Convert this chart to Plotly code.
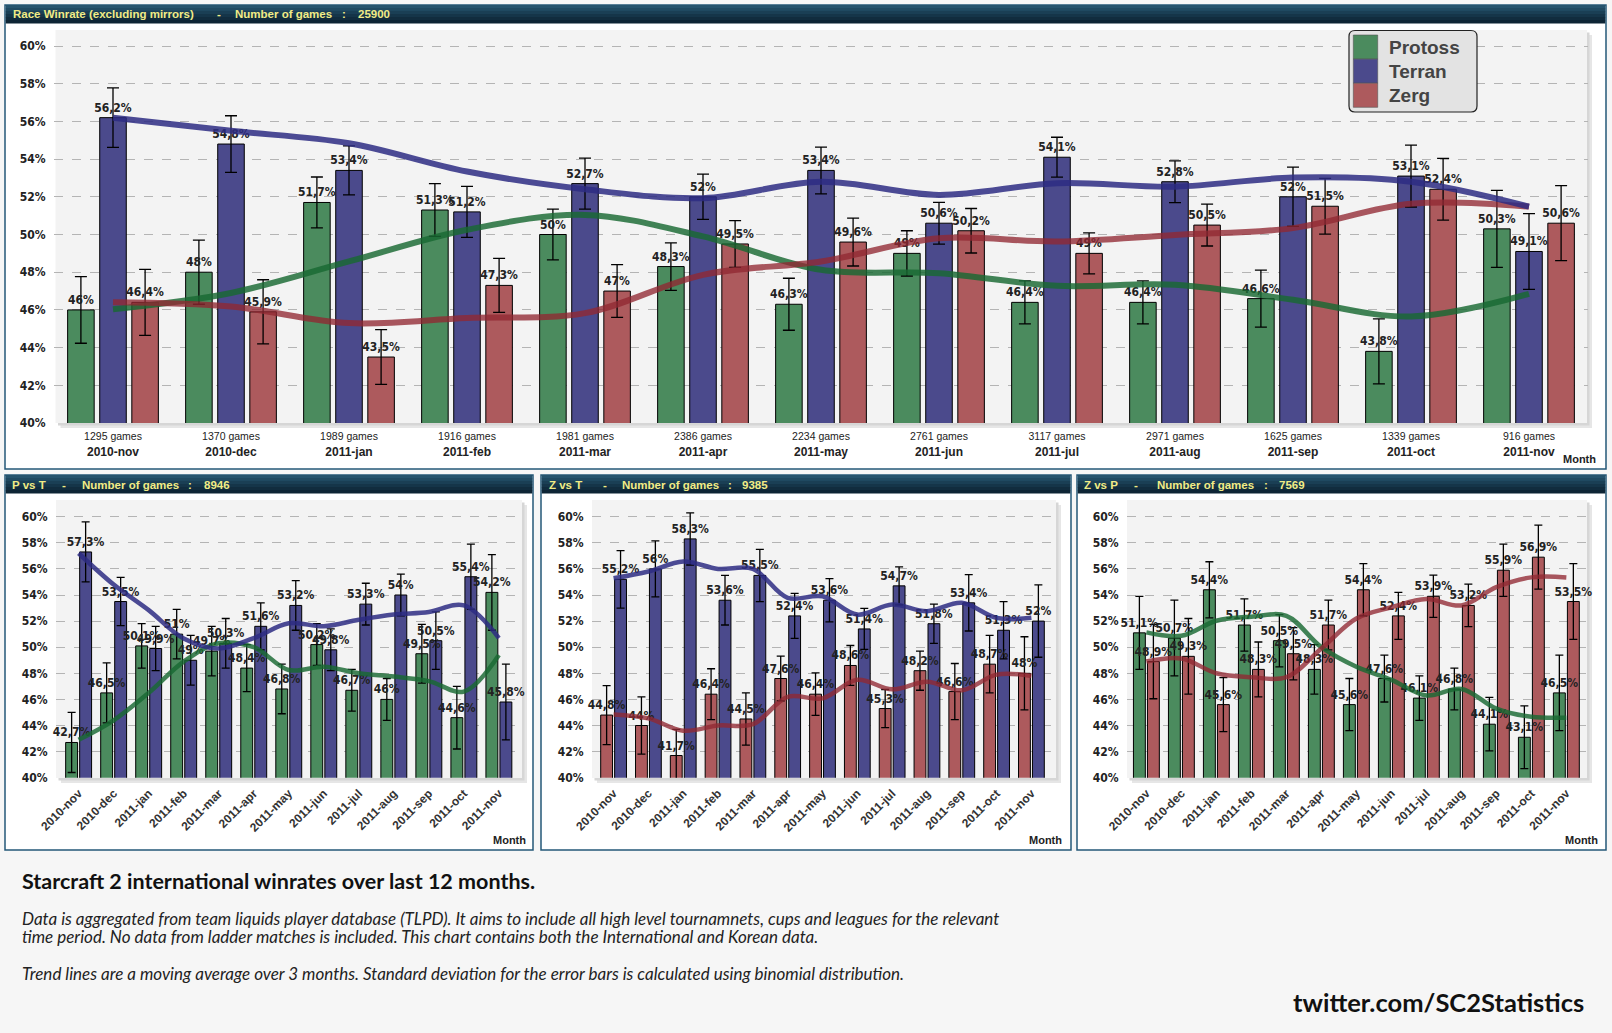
import plotly.graph_objects as go

W, H = 1612, 1033

# ---------------- data ----------------
months = ['2010-nov', '2010-dec', '2011-jan', '2011-feb', '2011-mar', '2011-apr', '2011-may',
          '2011-jun', '2011-jul', '2011-aug', '2011-sep', '2011-oct', '2011-nov']
games = [1295, 1370, 1989, 1916, 1981, 2386, 2234, 2761, 3117, 2971, 1625, 1339, 916]

# Race winrate (excluding mirrors)
all_protoss = [46, 48, 51.7, 51.3, 50, 48.3, 46.3, 49, 46.4, 46.4, 46.6, 43.8, 50.3]
all_terran = [56.2, 54.8, 53.4, 51.2, 52.7, 52, 53.4, 50.6, 54.1, 52.8, 52, 53.1, 49.1]
all_zerg = [46.4, 45.9, 43.5, 47.3, 47, 49.5, 49.6, 50.2, 49, 50.5, 51.5, 52.4, 50.6]
all_protoss_err = [1.77, 1.7, 1.35, 1.4, 1.35, 1.26, 1.38, 1.2, 1.14, 1.14, 1.51, 1.72, 2.04]
all_terran_err = [1.58, 1.5, 1.3, 1.35, 1.35, 1.2, 1.24, 1.11, 1.06, 1.11, 1.57, 1.64, 2.01]
all_zerg_err = [1.75, 1.7, 1.45, 1.43, 1.4, 1.24, 1.27, 1.18, 1.09, 1.11, 1.48, 1.64, 1.99]
all_protoss_trend = [46.04, 46.9, 48.57, 50.25, 51.04, 49.9, 48.13, 47.95, 47.28, 47.33, 46.54, 45.65, 46.85]
all_terran_trend = [56.2, 55.5, 54.84, 53.34, 52.4, 51.93, 52.8, 52.1, 52.72, 52.54, 53.02, 52.8, 51.48]
all_zerg_trend = [46.41, 46.18, 45.3, 45.57, 45.83, 47.86, 48.57, 49.8, 49.63, 49.98, 50.34, 51.63, 51.48]

# P vs T
pvt_protoss = [42.7, 46.5, 50.1, 51, 49.7, 48.4, 46.8, 50.2, 46.7, 46, 49.5, 44.6, 54.2]
pvt_terran = [57.3, 53.5, 49.9, 49, 50.3, 51.6, 53.2, 49.8, 53.3, 54, 50.5, 55.4, 45.8]
pvt_protoss_err = [2.3, 2.3, 1.7, 1.9, 1.9, 1.8, 1.9, 1.6, 1.6, 1.6, 2.25, 2.4, 2.9]
pvt_terran_err = [2.3, 1.85, 1.7, 1.9, 1.9, 1.8, 1.9, 1.6, 1.6, 1.6, 2.2, 2.5, 2.9]
pvt_protoss_trend = [42.9, 44.4, 46.5, 48.9, 50.3, 50.0, 48.25, 48.5, 48.0, 47.75, 47.4, 46.6, 49.4]
pvt_terran_trend = [57.2, 54.8, 52.84, 50.67, 49.9, 50.7, 51.83, 51.6, 52.1, 52.5, 52.7, 53.2, 50.7]

# Z vs T
zvt_zerg = [44.8, 44, 41.7, 46.4, 44.5, 47.6, 46.4, 48.6, 45.3, 48.2, 46.6, 48.7, 48]
zvt_terran = [55.2, 56, 58.3, 53.6, 55.5, 52.4, 53.6, 51.4, 54.7, 51.8, 53.4, 51.3, 52]
zvt_zerg_err = [2.26, 2.2, 2.0, 1.95, 2.0, 1.72, 1.63, 1.53, 1.46, 1.5, 2.15, 2.2, 2.8]
zvt_terran_err = [2.2, 2.15, 2.0, 1.9, 2.0, 1.72, 1.66, 1.57, 1.46, 1.5, 2.16, 2.2, 2.77]
zvt_zerg_trend = [44.85, 44.55, 43.6, 44.0, 44.1, 46.2, 46.08, 47.5, 46.77, 47.36, 46.7, 47.9, 47.8]
zvt_terran_trend = [55.28, 55.8, 56.57, 56.0, 56.0, 53.78, 53.9, 52.5, 53.27, 52.76, 53.4, 52.25, 52.25]

# Z vs P
zvp_protoss = [51.1, 50.7, 54.4, 51.7, 50.5, 48.3, 45.6, 47.6, 46.1, 46.8, 44.1, 43.1, 46.5]
zvp_zerg = [48.9, 49.3, 45.6, 48.3, 49.5, 51.7, 54.4, 52.4, 53.9, 53.2, 55.9, 56.9, 53.5]
zvp_protoss_err = [2.8, 2.9, 2.15, 2.0, 2.0, 1.9, 2.0, 1.8, 1.7, 1.6, 2.05, 2.4, 2.9]
zvp_zerg_err = [2.85, 2.9, 2.07, 2.1, 2.0, 1.9, 2.0, 1.8, 1.62, 1.63, 2.0, 2.45, 2.9]
zvp_protoss_trend = [51.14, 50.88, 52.03, 52.34, 52.4, 50.0, 48.5, 47.5, 46.3, 46.8, 45.3, 44.67, 44.6]
zvp_zerg_trend = [48.9, 49.14, 48.0, 47.7, 47.7, 49.9, 52.2, 53.06, 53.7, 53.2, 54.6, 55.35, 55.35]

panel_titles = ['Race Winrate (excluding mirrors)', 'P vs T', 'Z vs T', 'Z vs P']
panel_games = ['25900', '8946', '9385', '7569']
y_ticks = [40, 42, 44, 46, 48, 50, 52, 54, 56, 58, 60]

# ---------------- styles ----------------
P_COL, T_COL, Z_COL = '#4b8b5e', '#4b4a8c', '#ad5a5d'
P_TR, T_TR, Z_TR = 'rgba(25,105,50,0.82)', 'rgba(45,44,130,0.85)', 'rgba(145,40,50,0.78)'
NARROW = 'Liberation Sans Narrow, DejaVu Sans Condensed, Arial Narrow, sans-serif'
SANS = 'Liberation Sans, Arial, sans-serif'
LABEL_FONT = dict(family=NARROW, size=12, color='#222', weight='bold')
BODY = 'Lato, Open Sans, sans-serif'


def fmt(v):
    return ('%g' % v).replace('.', ',') + '%'


def px(x):
    return x / W


def py(y):
    return 1 - y / H


fig = go.Figure()


def add_bars(vals, errs, color, xa, ya, width, offset, cap):
    fig.add_trace(go.Bar(
        x=months, y=vals, xaxis=xa, yaxis=ya, width=width, offset=offset,
        marker=dict(color=color, line=dict(color='black', width=1)),
        error_y=dict(type='data', array=errs, color='black', thickness=1.3, width=cap),
        showlegend=False, hoverinfo='skip'))


def add_labels(vals, xa, ya, width, offset):
    # transparent bars that only carry the value labels (drawn above all real bars)
    fig.add_trace(go.Bar(
        x=months, y=vals, xaxis=xa, yaxis=ya, width=width, offset=offset,
        marker=dict(color='rgba(0,0,0,0)', line=dict(width=0)),
        text=[fmt(v) for v in vals], textposition='outside', textangle=0,
        constraintext='none', cliponaxis=False, textfont=LABEL_FONT,
        showlegend=False, hoverinfo='skip'))


def add_trend(vals, color, xa, ya, lw):
    fig.add_trace(go.Scatter(
        x=months, y=vals, xaxis=xa, yaxis=ya, mode='lines',
        line=dict(color=color, width=lw, shape='spline', smoothing=1.0),
        showlegend=False, hoverinfo='skip'))


# top chart
tw, tc = 0.225, 0.272
top_series = [(all_protoss, all_protoss_err, P_COL, -tc - tw / 2),
              (all_terran, all_terran_err, T_COL, -tw / 2),
              (all_zerg, all_zerg_err, Z_COL, tc - tw / 2)]
for vals, errs, col, off in top_series:
    add_bars(vals, errs, col, 'x', 'y', tw, off, 6)
for vals, errs, col, off in top_series:
    add_labels(vals, 'x', 'y', tw, off)
add_trend(all_protoss_trend, P_TR, 'x', 'y', 6)
add_trend(all_zerg_trend, Z_TR, 'x', 'y', 6)
add_trend(all_terran_trend, T_TR, 'x', 'y', 6)

# bottom charts
bw, bc = 0.34, 0.2
bottom = [
    ('x2', 'y2', (pvt_protoss, pvt_protoss_err, P_COL), (pvt_terran, pvt_terran_err, T_COL),
     (pvt_protoss_trend, P_TR), (pvt_terran_trend, T_TR)),
    ('x3', 'y3', (zvt_zerg, zvt_zerg_err, Z_COL), (zvt_terran, zvt_terran_err, T_COL),
     (zvt_zerg_trend, Z_TR), (zvt_terran_trend, T_TR)),
    ('x4', 'y4', (zvp_protoss, zvp_protoss_err, P_COL), (zvp_zerg, zvp_zerg_err, Z_COL),
     (zvp_protoss_trend, P_TR), (zvp_zerg_trend, Z_TR)),
]
for xa, ya, left, right, tl, tr in bottom:
    add_bars(left[0], left[1], left[2], xa, ya, bw, -bc - bw / 2, 4)
    add_bars(right[0], right[1], right[2], xa, ya, bw, bc - bw / 2, 4)
    add_labels(left[0], xa, ya, bw, -bc - bw / 2)
    add_labels(right[0], xa, ya, bw, bc - bw / 2)
    add_trend(tl[0], tl[1], xa, ya, 4.5)
    add_trend(tr[0], tr[1], xa, ya, 4.5)


# ---------------- axes ----------------
def yaxis(domain, rng, anchor):
    return dict(domain=domain, range=rng, anchor=anchor, tickvals=y_ticks, automargin=False,
                ticktext=['%d%%' % t for t in y_ticks], showgrid=True, gridcolor='#b4b4b4',
                griddash='dash', gridwidth=1, zeroline=False, showline=False,
                ticks='outside', ticklen=5, tickcolor='rgba(0,0,0,0)',
                tickfont=dict(family=NARROW, size=12, color='#222', weight='bold'), fixedrange=True)


def xaxis_bottom(domain, rng, anchor):
    return dict(domain=domain, range=rng, anchor=anchor, type='category', showgrid=False,
                zeroline=False, showline=False, tickangle=-45, ticks='outside', ticklen=3,
                tickcolor='rgba(0,0,0,0)', automargin=False,
                tickfont=dict(family=SANS, size=12, color='#333', weight='bold'), fixedrange=True)


top_ticktext = ["<span style='font-size:10.5px'>%d games</span><br><b>%s</b>" % (g, m)
                for g, m in zip(games, months)]

layout = dict(
    width=W, height=H, margin=dict(l=0, r=0, t=0, b=0, autoexpand=False),
    paper_bgcolor='#f6f6f6', plot_bgcolor='rgba(0,0,0,0)', barmode='overlay',
    xaxis=dict(domain=[px(54), px(1588)], range=[-0.5, 12.5], anchor='y', type='category',
               showgrid=False, zeroline=False, showline=False, tickvals=months, ticktext=top_ticktext,
               ticks='outside', ticklen=2, tickcolor='rgba(0,0,0,0)', automargin=False,
               tickfont=dict(family=SANS, size=12, color='#222'), fixedrange=True),
    yaxis=yaxis([py(423), py(30)], [40, 60.85], 'x'),
    xaxis2=xaxis_bottom([px(56), px(522)], [-0.646, 12.66], 'y2'),
    yaxis2=yaxis([py(777.7), py(500)], [40, 61.28], 'x2'),
    xaxis3=xaxis_bottom([px(592), px(1053)], [-0.62, 12.62], 'y3'),
    yaxis3=yaxis([py(777.7), py(500)], [40, 61.28], 'x3'),
    xaxis4=xaxis_bottom([px(1127), px(1587)], [-0.554, 12.59], 'y4'),
    yaxis4=yaxis([py(777.7), py(500)], [40, 61.28], 'x4'),
)

# ---------------- decorations ----------------
shapes = []
annotations = []


def rect(x0, y0, x1, y1, fill, line_color='rgba(0,0,0,0)', lw=0, layer='below'):
    shapes.append(dict(type='rect', xref='paper', yref='paper', x0=px(x0), x1=px(x1),
                       y0=py(y1), y1=py(y0), fillcolor=fill,
                       line=dict(color=line_color, width=lw), layer=layer))


def text(x, y, s, size, color='#222', weight='normal', family=SANS, xanchor='left',
         style='normal'):
    annotations.append(dict(xref='paper', yref='paper', x=px(x), y=py(y), text=s,
                            showarrow=False, xanchor=xanchor, yanchor='middle',
                            font=dict(family=family, size=size, color=color, weight=weight,
                                      style=style)))


header_cols = ['#25536d', '#1f4961', '#1a3f55', '#153549', '#112c3e', '#0d2434']


def panel(x0, y0, x1, y1, title, ngames, offs):
    rect(x0, y0, x1, y1, '#ffffff', '#245878', 1.5)
    hh = 18.0
    for i, c in enumerate(header_cols):
        rect(x0 + 0.75, y0 + i * hh / len(header_cols), x1 - 0.75,
             y0 + (i + 1) * hh / len(header_cols) + 0.4, c)
    yc = y0 + 9.5
    parts = [title, '-', 'Number of games', ':', ngames]
    for o, s in zip(offs, parts):
        text(x0 + o, yc, s, 11.5, '#f1ec86', 'bold')


panel(5, 5, 1606, 469, panel_titles[0], panel_games[0], [6, 210, 228, 335, 351])
panel(5, 475, 533, 850, panel_titles[1], panel_games[1], [5, 55, 75, 181, 197])
panel(541, 475, 1071, 850, panel_titles[2], panel_games[2], [5.6, 60, 78.5, 184.7, 199])
panel(1077, 475, 1606, 850, panel_titles[3], panel_games[3], [5, 55, 78, 184.5, 200])

# plot area backgrounds with soft shadow
for (x0, y0, x1, y1) in [(55.5, 30, 1587, 423), (56, 500, 522, 778), (592, 500, 1056, 778),
                         (1127, 500, 1587, 778)]:
    rect(x0 + 5, y0 + 5, x1 + 5, y1 + 5, '#e6e6e6')
    rect(x0 + 2.5, y0 + 2.5, x1 + 2.5, y1 + 2.5, '#d6d6d6')
    rect(x0, y0, x1, y1, '#f3f3f3')

# "Month" axis titles
text(1598, 459, 'Month', 11, '#222', 'bold', xanchor='right')
text(528, 840, 'Month', 11, '#222', 'bold', xanchor='right')
text(1064, 840, 'Month', 11, '#222', 'bold', xanchor='right')
text(1600, 840, 'Month', 11, '#222', 'bold', xanchor='right')

# legend (top chart)
lx0, ly0, lx1, ly1, r = 1349, 30.5, 1477, 112, 6
path = ('M {a},{b} L {c},{b} Q {d},{b} {d},{e} L {d},{f} Q {d},{g} {c},{g} '
        'L {a},{g} Q {h},{g} {h},{f} L {h},{e} Q {h},{b} {a},{b} Z').format(
    a=px(lx0 + r), b=py(ly0), c=px(lx1 - r), d=px(lx1), e=py(ly0 + r), f=py(ly1 - r),
    g=py(ly1), h=px(lx0))
shapes.append(dict(type='path', xref='paper', yref='paper', path=path, fillcolor='#e3e3e3',
                   line=dict(color='#222', width=1.2), layer='above'))
legend_names = ['Protoss', 'Terran', 'Zerg']
for i, (name, col) in enumerate(zip(legend_names, [P_COL, T_COL, Z_COL])):
    yy0 = 35 + i * 24.1
    rect(1353.3, yy0, 1377.7, yy0 + 24.1, col, '#555', 0.6, layer='above')
    text(1387, yy0 + 12, name, 19, '#444', 'bold')

# bottom text
text(20, 881, 'Starcraft 2 international winrates over last 12 months.', 21.5, '#111', 'bold',
     family=BODY)
text(20, 918, 'Data is aggregated from team liquids player database (TLPD). It aims to include all '
     'high level tournamnets, cups and leagues for the relevant', 17, '#222',
     family=BODY, style='italic')
text(20, 936, 'time period. No data from ladder matches is included. This chart contains both the '
     'International and Korean data.', 17, '#222', family=BODY, style='italic')
text(20, 973, 'Trend lines are a moving average over 3 months. Standard deviation for the error bars '
     'is calculated using binomial distribution.', 17, '#222', family=BODY, style='italic')
text(1586, 1002, 'twitter.com/SC2Statistics', 25.5, '#111', 'bold', family=BODY, xanchor='right')

layout['shapes'] = shapes
layout['annotations'] = annotations
fig.update_layout(**layout)
fig.write_html('out.html')
